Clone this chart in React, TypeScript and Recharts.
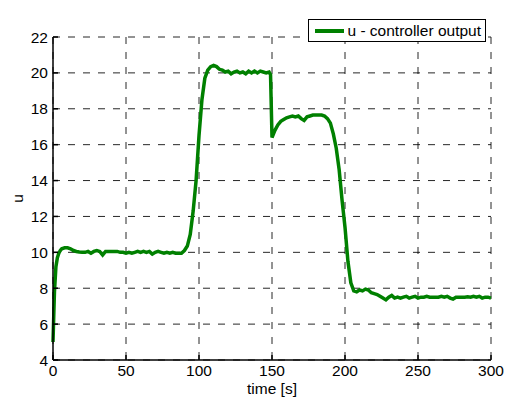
import { LineChart, Line, XAxis, YAxis, CartesianGrid, Legend } from 'recharts'

/* ─── data ─── */
const time = [
  0, 1, 2, 3, 4, 5, 6, 8, 10, 12, 14, 16, 18, 20, 22, 24, 26, 28, 30, 32, 34, 36, 38, 40,
  42, 44, 46, 48, 50, 52, 54, 56, 58, 60, 62, 64, 66, 68, 70, 72, 74, 76, 78, 80, 82, 84,
  86, 88, 90, 92, 94, 96, 98, 100, 102, 104, 106, 108, 110, 112, 114, 116, 118, 120, 122,
  124, 126, 128, 130, 132, 134, 136, 138, 140, 142, 144, 146, 148, 149, 150, 152, 154, 156,
  158, 160, 162, 164, 166, 168, 170, 172, 174, 176, 178, 180, 182, 184, 186, 188, 190, 192,
  194, 196, 198, 200, 202, 204, 206, 208, 210, 212, 214, 216, 218, 220, 222, 224, 226, 228,
  230, 232, 234, 236, 238, 240, 242, 244, 246, 248, 250, 252, 254, 256, 258, 260, 262, 264,
  266, 268, 270, 272, 274, 276, 278, 280, 282, 284, 286, 288, 290, 292, 294, 296, 298, 300,
]

const uOut = [
  5.0, 7.8, 9.2, 9.7, 9.95, 10.1, 10.2, 10.25, 10.25, 10.2, 10.1, 10.05, 10.02, 10.0, 10.0,
  10.05, 9.95, 10.05, 10.1, 10.05, 9.85, 10.05, 10.05, 10.05, 10.05, 10.05, 10.0, 10.0, 9.95,
  10.0, 9.95, 10.0, 10.05, 10.0, 10.05, 10.0, 10.05, 9.9, 10.0, 10.05, 10.0, 9.95, 10.0, 9.95,
  10.0, 9.95, 9.95, 9.95, 10.1, 10.35, 11.0, 12.3, 14.0, 16.5, 18.5, 19.7, 20.15, 20.35, 20.42,
  20.35, 20.2, 20.15, 20.05, 20.1, 19.95, 20.05, 20.1, 20.0, 20.05, 19.95, 20.1, 20.0, 20.1,
  20.0, 20.1, 20.05, 20.0, 20.05, 19.9, 16.4, 16.8, 17.1, 17.3, 17.4, 17.5, 17.55, 17.6, 17.55,
  17.6, 17.45, 17.35, 17.55, 17.6, 17.65, 17.65, 17.65, 17.65, 17.6, 17.45, 17.2, 16.6, 15.8,
  14.6, 12.9, 11.4, 9.5, 8.3, 7.85, 7.8, 7.9, 7.85, 7.95, 7.9, 7.75, 7.7, 7.65, 7.55, 7.45,
  7.35, 7.5, 7.6, 7.45, 7.5, 7.45, 7.5, 7.55, 7.45, 7.5, 7.55, 7.45, 7.5, 7.5, 7.55, 7.5, 7.5,
  7.5, 7.5, 7.55, 7.5, 7.55, 7.45, 7.4, 7.5, 7.5, 7.5, 7.5, 7.52, 7.5, 7.55, 7.5, 7.55, 7.45,
  7.5, 7.5, 7.45,
]

const xTicks = [0, 50, 100, 150, 200, 250, 300]
const yTicks = [4, 6, 8, 10, 12, 14, 16, 18, 20, 22]

const data = time.map((t, i) => ({ t, u: uOut[i] }))

const FONT = '"Liberation Sans", Arial, Helvetica, sans-serif'
const GREEN = '#008000'
const tickStyle = { fontSize: 15.5, fill: '#000', fontFamily: FONT }

/* ─── legend box ─── */
function LegendBox() {
  return (
    <div style={{
      display: 'flex', alignItems: 'center', border: '1px solid #000', background: '#fff',
      height: 23, padding: '0 4px 0 6px', boxSizing: 'border-box',
      fontFamily: FONT, fontSize: 15.5, color: '#000', whiteSpace: 'nowrap',
    }}>
      <span style={{ display: 'inline-block', width: 29, height: 4, background: GREEN, marginRight: 3 }} />
      <span>u - controller output</span>
    </div>
  )
}

export default function App() {
  return (
    <div style={{ position: 'fixed', left: 0, top: 0, width: 513, height: 400, background: '#fff' }}>
      <LineChart width={513} height={400} data={data} margin={{ top: 14, right: 22, left: 23, bottom: 0 }}>
        <CartesianGrid stroke="#000" strokeDasharray="7 8" strokeWidth={1} strokeOpacity={0.85} />
        <XAxis
          dataKey="t" type="number" domain={[0, 300]} ticks={xTicks}
          height={40} tickSize={-5} tickMargin={10}
          tick={tickStyle} stroke="#000" strokeWidth={1.5}
          label={{ value: 'time [s]', position: 'insideBottom', offset: 6, style: { ...tickStyle, textAnchor: 'middle' } }}
        />
        <XAxis
          xAxisId="top" orientation="top" dataKey="t" type="number" domain={[0, 300]} ticks={xTicks}
          height={0} tickSize={-5} tick={false} stroke="#000" strokeWidth={1.5}
        />
        <YAxis
          type="number" domain={[4, 22]} ticks={yTicks} width={30}
          tickSize={-5} tickMargin={10} tick={tickStyle} stroke="#000" strokeWidth={1.5}
          label={{ value: 'u', angle: -90, position: 'insideLeft', offset: -6, style: { ...tickStyle, textAnchor: 'middle' } }}
        />
        <YAxis
          yAxisId="right" orientation="right" type="number" domain={[4, 22]} ticks={yTicks}
          width={0} tickSize={-5} tick={false} stroke="#000" strokeWidth={1.5}
        />
        <Legend
          verticalAlign="top" align="right" content={() => <LegendBox />}
          wrapperStyle={{ top: 19, right: 27, left: 'auto', width: 'auto' }}
        />
        <Line
          type="linear" dataKey="u" name="u - controller output"
          stroke={GREEN} strokeWidth={3.5} dot={false} isAnimationActive={false}
        />
      </LineChart>
    </div>
  )
}
